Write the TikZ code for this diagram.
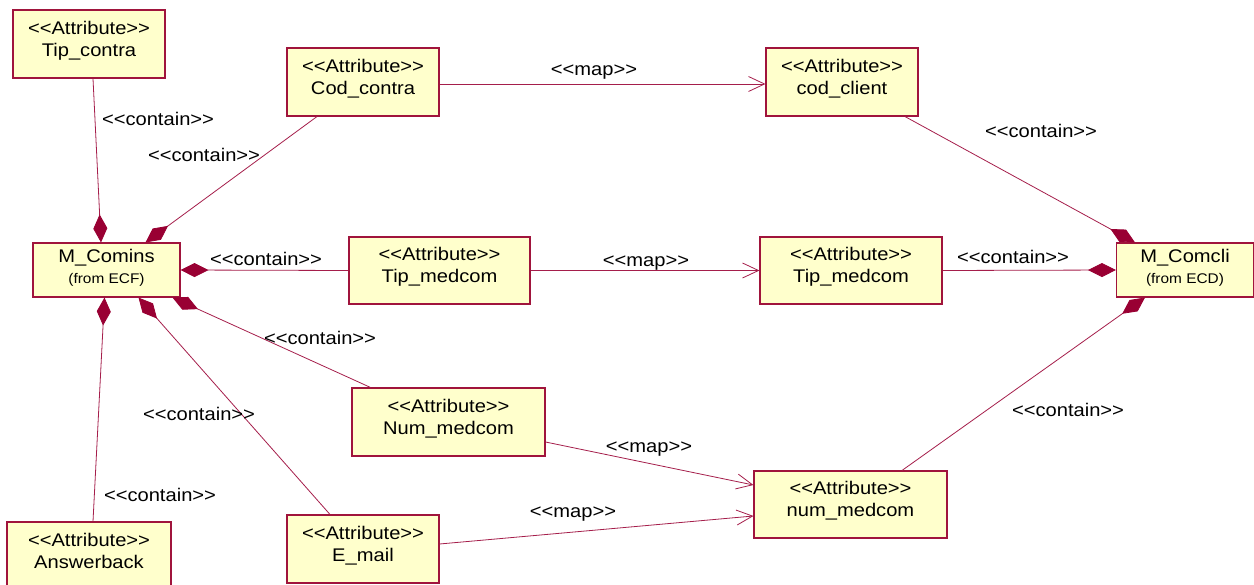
\documentclass[tikz,border=0pt]{standalone}
\usepackage{fontspec}
\setmainfont[FakeStretch=1.1]{Liberation Sans}
\usetikzlibrary{arrows.meta}
\definecolor{boxline}{RGB}{160,20,60}
\definecolor{boxfill}{RGB}{255,255,204}
\definecolor{edgeline}{RGB}{165,30,75}
\definecolor{diamondfill}{RGB}{153,0,51}
% guillemet-free stereotype brackets
\newcommand\stereo[1]{<\kern0pt<#1>\kern0pt>}
\begin{document}
\begin{tikzpicture}[x=1pt,y=-1pt,
  attr/.style={draw=boxline, fill=boxfill, line width=1.1pt, inner sep=0pt,
    align=center, font=\fontsize{18.3}{22}\selectfont, text depth=11pt},
  pkg/.style={attr, text depth=8pt},
  lbl/.style={font=\fontsize{18.3}{20}\selectfont, inner sep=0pt},
  contain/.style={draw=edgeline, line width=0.8pt,
    -{Diamond[length=28pt,width=14pt,fill=diamondfill,color=diamondfill]}},
  mapedge/.style={draw=edgeline, line width=0.8pt,
    -{Straight Barb[length=16pt,width=15pt,line width=0.8pt]}}]
\useasboundingbox (0,0) rectangle (1254,585);
\fill[white] (0,0) rectangle (1254,585);

% classes
\node[pkg, minimum width=147pt, minimum height=54pt] (comins) at (106.5,270)
  {M\_Comins\\[-1pt]{\fontsize{14}{15}\selectfont (from ECF)}};
\node[pkg, minimum width=137pt, minimum height=54pt] (comcli) at (1185,270)
  {M\_Comcli\\[-1pt]{\fontsize{14}{15}\selectfont (from ECD)}};

% attributes
\node[attr, minimum width=152pt, minimum height=68pt] (tipcontra) at (89,44) {\stereo{Attribute}\\Tip\_contra};
\node[attr, minimum width=152pt, minimum height=68pt] (codcontra) at (363,82) {\stereo{Attribute}\\Cod\_contra};
\node[attr, minimum width=152pt, minimum height=68pt] (codclient) at (842,82) {\stereo{Attribute}\\cod\_client};
\node[attr, minimum width=181pt, minimum height=67pt] (tipmedL) at (439.5,270.5) {\stereo{Attribute}\\Tip\_medcom};
\node[attr, minimum width=182pt, minimum height=67pt] (tipmedR) at (851,270.5) {\stereo{Attribute}\\Tip\_medcom};
\node[attr, minimum width=193pt, minimum height=68pt] (numL) at (448.5,422) {\stereo{Attribute}\\Num\_medcom};
\node[attr, minimum width=193pt, minimum height=67pt] (numR) at (850.5,504.5) {\stereo{Attribute}\\num\_medcom};
\node[attr, minimum width=152pt, minimum height=68pt] (email) at (363,549) {\stereo{Attribute}\\E\_mail};
\node[attr, minimum width=164pt, minimum height=68pt] (answer) at (89,556) {\stereo{Attribute}\\Answerback};

% containment links
\draw[contain] ([xshift=4pt]tipcontra.south) -- ([xshift=-5.5pt]comins.north);
\draw[contain] ([xshift=-46pt]codcontra.south) -- ([xshift=39pt]comins.north);
\draw[contain] (tipmedL.west) -- (comins.east);
\draw[contain] ([xshift=-78pt]numL.north) -- ([xshift=66pt]comins.south);
\draw[contain] ([xshift=-33pt]email.north) -- ([xshift=32pt]comins.south);
\draw[contain] ([xshift=4pt]answer.north) -- ([xshift=-2pt]comins.south);
\draw[contain] ([xshift=63pt]codclient.south) -- ([xshift=-50pt]comcli.north);
\draw[contain] (tipmedR.east) -- (comcli.west);
\draw[contain] ([xshift=51.5pt]numR.north) -- ([xshift=-40pt]comcli.south);

% mapping links
\draw[mapedge] ([yshift=-2pt]codcontra.east) -- ([yshift=-2pt]codclient.west);
\draw[mapedge] (tipmedL.east) -- (tipmedR.west);
\draw[mapedge] ([yshift=-20pt]numL.east) -- ([yshift=19.5pt]numR.west);
\draw[mapedge] ([yshift=5pt]email.east) -- ([yshift=-11.5pt]numR.west);

% link labels
\node[lbl] (l1) at (158,119) {\stereo{contain}};
\node[lbl] (l2) at (204,155) {\stereo{contain}};
\node[lbl] (l3) at (594,72) {\stereo{map}};
\node[lbl] (l4) at (1041,131) {\stereo{contain}};
\node[lbl] (l5) at (266,259) {\stereo{contain}};
\node[lbl] (l6) at (646,263) {\stereo{map}};
\node[lbl] (l7) at (1013,257) {\stereo{contain}};
\node[lbl] (l8) at (320,338) {\stereo{contain}};
\node[lbl] (l9) at (199,414) {\stereo{contain}};
\node[lbl] (l10) at (160,495) {\stereo{contain}};
\node[lbl] (l11) at (649,449) {\stereo{map}};
\node[lbl] (l12) at (573,514) {\stereo{map}};
\node[lbl] (l13) at (1068,410) {\stereo{contain}};
\end{tikzpicture}
\end{document}
